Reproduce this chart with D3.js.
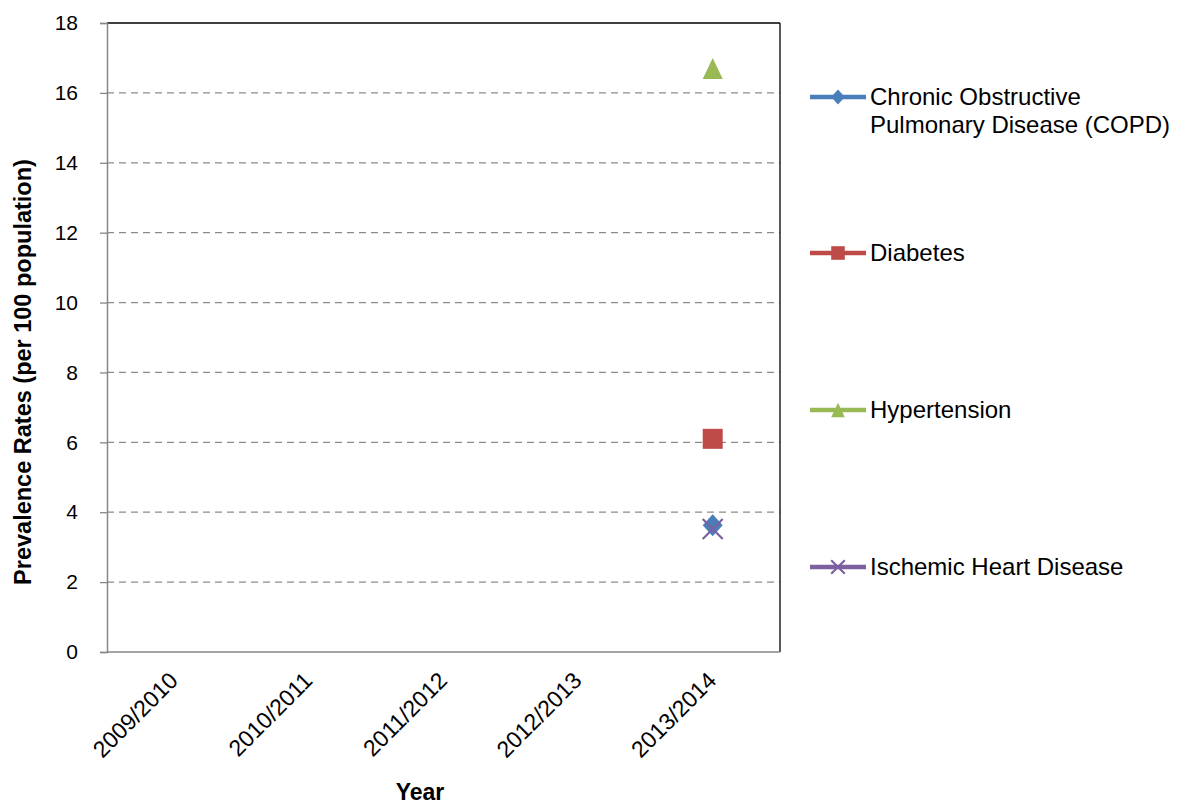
<!DOCTYPE html>
<html><head><meta charset="utf-8">
<script src="https://cdn.jsdelivr.net/npm/d3@7"></script>
<style>body{margin:0;background:#fff;} text{font-family:"Liberation Sans",Arial,sans-serif;}</style>
</head><body>
<svg id="c" width="1179" height="804"></svg>
<script>
const categories = ["2009/2010","2010/2011","2011/2012","2012/2013","2013/2014"];
const seriesNames = ["Chronic Obstructive Pulmonary Disease (COPD)","Diabetes","Hypertension","Ischemic Heart Disease"];
const copd = [null,null,null,null,3.63];
const diabetes = [null,null,null,null,6.1];
const hypertension = [null,null,null,null,16.7];
const ihd = [null,null,null,null,3.52];
const yTicks = [0,2,4,6,8,10,12,14,16,18];
const colors = ["#4A7EBB","#BE4B48","#98B954","#7D60A0"];
const symbols = ["diamond","square","triangle","cross"];
const seriesValues = [copd, diabetes, hypertension, ihd];

const svg = d3.select("#c");
const L=107, R=780, T=23, B=652;
const x = d3.scaleBand().domain(categories).range([L,R]);
const y = d3.scaleLinear().domain([0,18]).range([B,T]);

// gridlines
svg.append("g").selectAll("line").data(yTicks.filter(d=>d>0&&d<18)).join("line")
  .attr("x1",L).attr("x2",R).attr("y1",d=>y(d)).attr("y2",d=>y(d))
  .attr("stroke","#8c8c8c").attr("stroke-width",1.3).attr("stroke-dasharray","7,5");
// top and right border
svg.append("line").attr("x1",L).attr("x2",R).attr("y1",T).attr("y2",T).attr("stroke","#000").attr("stroke-width",1.3);
svg.append("line").attr("x1",R).attr("x2",R).attr("y1",T).attr("y2",B).attr("stroke","#000").attr("stroke-width",1.3);

// y axis
const ya = svg.append("g").attr("transform",`translate(${L},0)`)
  .call(d3.axisLeft(y).tickValues(yTicks).tickSize(7).tickPadding(22).tickFormat(d3.format("d")));
ya.select(".domain").attr("stroke","#868686").attr("stroke-width",1.5);
ya.selectAll(".tick line").attr("stroke","#868686").attr("stroke-width",1.3);
ya.selectAll("text").attr("font-size",21).attr("fill","#000").style("font-family","Liberation Sans, Arial");

// x axis
const xa = svg.append("g").attr("transform",`translate(0,${B})`)
  .call(d3.axisBottom(x).tickSize(0).tickPadding(0));
xa.select(".domain").attr("stroke","#868686").attr("stroke-width",1.5).attr("d",`M${L},0H${R}`);
xa.selectAll(".tick text").attr("font-size",23).attr("fill","#000")
  .style("font-family","Liberation Sans, Arial")
  .attr("text-anchor","end").attr("dy",0)
  .attr("transform","translate(5,30) rotate(-45)");

// axis titles
svg.append("text").attr("x",420).attr("y",800).attr("text-anchor","middle")
  .attr("font-size",23).attr("font-weight","bold").text("Year");
svg.append("text").attr("transform",`translate(31,372) rotate(-90)`).attr("text-anchor","middle")
  .attr("font-size",23.5).attr("font-weight","bold").text("Prevalence Rates (per 100 population)");

function symPath(i){
  switch(symbols[i]){
    case "diamond": return "M0,-11L10,0L0,11L-10,0Z";
    case "square": return "M-10,-10H10V10H-10Z";
    case "triangle": return "M0,-10.5L10,10.5L-10,10.5Z";
    default: return "M-10,-10L10,10M-10,10L10,-10";
  }
}
function drawMarker(g,i,cx,cy,scale){
  const p = g.append("path").attr("d",symPath(i)).attr("transform",`translate(${cx},${cy}) scale(${scale})`);
  if(symbols[i]==="cross") p.attr("fill","none").attr("stroke",colors[i]).attr("stroke-width",2.2/scale);
  else p.attr("fill",colors[i]);
}

// data markers
const mg = svg.append("g");
seriesValues.forEach((vals,i)=>{
  vals.forEach((v,j)=>{
    if(v==null) return;
    const cx = x(categories[j])+x.bandwidth()/2;
    drawMarker(mg,i,cx,y(v),1);
  });
});

// legend
const legY = [97,253,410,567];
const lg = svg.append("g");
seriesNames.forEach((n,i)=>{
  const yy = legY[i];
  lg.append("line").attr("x1",810).attr("x2",866).attr("y1",yy).attr("y2",yy).attr("stroke",colors[i]).attr("stroke-width",4.5);
  drawMarker(lg,i,838,yy,0.68);
  const lines = i===0 ? ["Chronic Obstructive","Pulmonary Disease (COPD)"] : [n];
  lines.forEach((t,k)=>{
    lg.append("text").attr("x",870).attr("y",yy+8+k*28).attr("font-size",24).attr("fill","#000").text(t);
  });
});
</script>
</body></html>
